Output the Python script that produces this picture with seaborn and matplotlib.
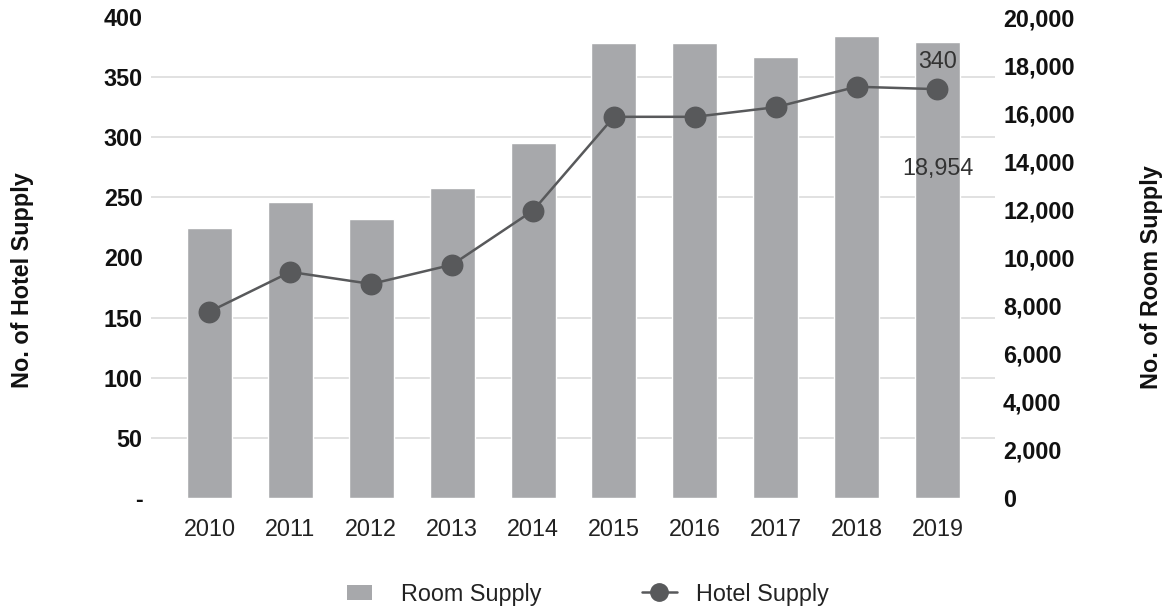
import numpy as np
import pandas as pd
import matplotlib
matplotlib.use("Agg")
import matplotlib.pyplot as plt
from matplotlib.ticker import MultipleLocator, FixedLocator, FuncFormatter, NullFormatter
from matplotlib.patches import Patch, Rectangle
from matplotlib.lines import Line2D
from matplotlib.legend_handler import HandlerPatch
import seaborn as sns

# ---- data ----
years = ["2010", "2011", "2012", "2013", "2014", "2015", "2016", "2017", "2018", "2019"]
room_supply = [11230, 12310, 11600, 12890, 14760, 18920, 18920, 18340, 19210, 18954]
hotel_supply = [155, 188, 178, 194, 239, 317, 317, 325, 342, 340]
hotel_ticks = [0, 50, 100, 150, 200, 250, 300, 350, 400]
room_ticks = [0, 2000, 4000, 6000, 8000, 10000, 12000, 14000, 16000, 18000, 20000]

BAR_C = "#a7a8ab"
LINE_C = "#58595b"
GRID_C = "#d9d9d9"
FS = 16.8

sns.set_theme(style="white")
plt.rcParams["font.family"] = ["Liberation Sans", "DejaVu Sans"]

fig = plt.figure(figsize=(11.7, 6.09), dpi=100)
ax = fig.add_axes([151 / 1170, 1 - 498 / 609, 844 / 1170, 481 / 609])
ax2 = ax.twinx()

df = pd.DataFrame({"year": years, "rooms": room_supply, "hotels": hotel_supply})

sns.barplot(data=df, x="year", y="rooms", color=BAR_C, saturation=1, width=0.556,
            ax=ax2, zorder=2)
sns.pointplot(data=df, x="year", y="hotels", color=LINE_C, markers="o",
              markersize=14.4, linewidth=1.8, ax=ax)

# layering: line axes above bar axes
ax.set_zorder(ax2.get_zorder() + 1)
ax.patch.set_visible(False)

# limits
ax.set_xlim(-0.723, 9.711)
ax.set_ylim(0, 400)
ax2.set_ylim(0, 20000)

# grid on bars axes (behind bars), aligned to left ticks
ax2.yaxis.set_minor_locator(MultipleLocator(2500))
ax2.yaxis.grid(False, which="major")
ax2.yaxis.grid(True, which="minor", color=GRID_C, linewidth=1.1)
ax2.set_axisbelow(True)
ax.grid(False)
ax.xaxis.grid(False)

# ticks
ax.yaxis.set_major_locator(FixedLocator(hotel_ticks))
ax.yaxis.set_major_formatter(FuncFormatter(lambda v, p: "-" if v == 0 else f"{int(v)}"))
ax2.yaxis.set_major_locator(FixedLocator(room_ticks))
ax2.yaxis.set_major_formatter(FuncFormatter(lambda v, p: f"{int(v):,}"))
ax2.yaxis.set_minor_formatter(NullFormatter())

ax.tick_params(axis="y", length=0, pad=6, labelsize=FS, labelcolor="#111111")
ax2.tick_params(axis="y", which="both", length=0, pad=5.8, labelsize=FS, labelcolor="#111111")
for t in ax.get_yticklabels() + ax2.get_yticklabels():
    t.set_fontweight("bold")
ax.tick_params(axis="x", length=0, pad=14.5, labelsize=FS, labelcolor="#222222")

for a in (ax, ax2):
    for s in a.spines.values():
        s.set_visible(False)

ax.set_xlabel("")
ax.set_ylabel("No. of Hotel Supply", fontsize=FS, fontweight="bold", color="#111111")
ax2.set_ylabel("No. of Room Supply", fontsize=FS, fontweight="bold", color="#111111")
ax.yaxis.set_label_coords(-0.1517, 0.4532)
ax2.yaxis.set_label_coords(1.186, 0.4595)
ax.yaxis.label.set_va("center")
ax2.yaxis.label.set_va("center")

# annotations for the last year
last = len(years) - 1
ax.annotate(f"{hotel_supply[last]}", xy=(last, hotel_supply[last]), xytext=(0, 21),
            textcoords="offset pixels", ha="center", va="baseline",
            fontsize=FS, color="#333333")
ax2.annotate(f"{room_supply[last]:,}", xy=(last, room_supply[last]), xytext=(0, -132.5),
             textcoords="offset pixels", ha="center", va="baseline",
             fontsize=FS, color="#333333", zorder=5)

# legend
def small_rect(legend, orig_handle, xdescent, ydescent, width, height, fontsize):
    w = width * 26 / 35
    h = 15 / 1.389 * fontsize / FS * 1.0
    return Rectangle((-xdescent, -ydescent + (height - h) / 2), w, h)

h_room = Patch(facecolor=BAR_C, edgecolor="none", label="Room Supply")
h_hotel = Line2D([], [], color=LINE_C, marker="o", markersize=12.5, linewidth=1.8,
                 label="Hotel Supply")
fig.legend(handles=[h_room, h_hotel], loc="center", bbox_to_anchor=(588 / 1170, 1 - 594 / 609),
           ncol=2, frameon=False, fontsize=FS, handlelength=1.48, handletextpad=0.85,
           columnspacing=4.3, borderpad=0, labelcolor="#222222",
           handler_map={Patch: HandlerPatch(patch_func=small_rect)})

fig.savefig("out.png", dpi=100)
